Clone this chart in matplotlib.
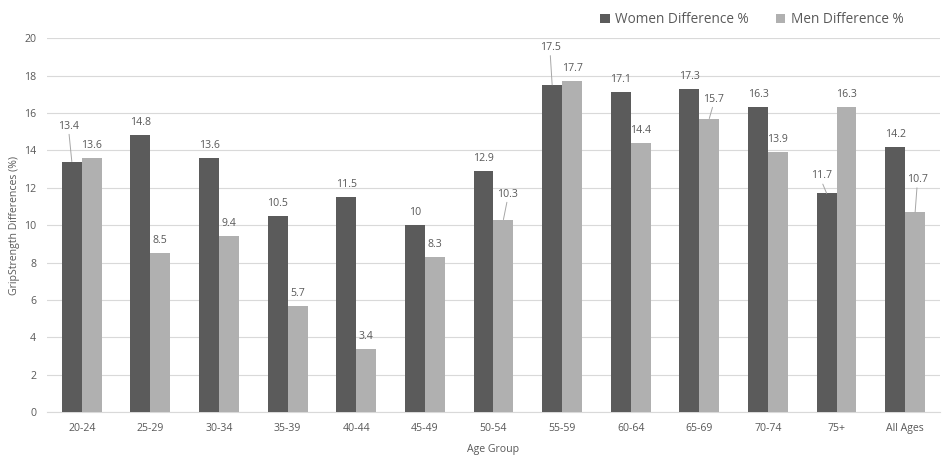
import matplotlib.pyplot as plt
import numpy as np

plt.rcParams['font.family'] = ['Open Sans', 'DejaVu Sans']

groups = ["20-24", "25-29", "30-34", "35-39", "40-44", "45-49", "50-54",
          "55-59", "60-64", "65-69", "70-74", "75+", "All Ages"]
women = [13.4, 14.8, 13.6, 10.5, 11.5, 10, 12.9, 17.5, 17.1, 17.3, 16.3, 11.7, 14.2]
men = [13.6, 8.5, 9.4, 5.7, 3.4, 8.3, 10.3, 17.7, 14.4, 15.7, 13.9, 16.3, 10.7]

# labels pushed away from the bar with a leader line: (series, index) -> offset in px
leaders = {(0, 0): (-3, 30), (0, 7): (-2, 32), (1, 6): (4, 20),
           (1, 9): (4, 14), (0, 11): (-5, 12), (1, 12): (2, 27)}

dark = '#5b5b5b'
light = '#b0b0b0'
txt = '#595959'

fig = plt.figure(figsize=(9.49, 4.59), dpi=100)
ax = fig.add_axes([0.05, 0.102, 0.94, 0.815])

x = np.arange(len(groups))
w = 0.29
b1 = ax.bar(x - w/2, women, w, color=dark, label="Women Difference %", zorder=3)
b2 = ax.bar(x + w/2, men, w, color=light, label="Men Difference %", zorder=3)

for s, (bars, vals) in enumerate([(b1, women), (b2, men)]):
    for i, (r, v) in enumerate(zip(bars, vals)):
        cx = r.get_x() + r.get_width()/2
        lab = ('%g' % v)
        if (s, i) in leaders:
            dx, dy = leaders[(s, i)]
            ax.annotate(lab, xy=(cx, v), xytext=(dx*0.72, dy*0.72),
                        textcoords='offset points', ha='center', va='bottom',
                        fontsize=7.6, color=txt,
                        arrowprops=dict(arrowstyle='-', color='#a6a6a6', lw=0.7,
                                        shrinkA=0, shrinkB=0, relpos=(0.5, 0)))
        else:
            ax.annotate(lab, xy=(cx, v), xytext=(0, 5), textcoords='offset points',
                        ha='center', va='bottom', fontsize=7.6, color=txt)

ax.set_ylim(0, 20)
ax.set_xlim(-0.5, len(groups) - 0.5)
ax.set_yticks(range(0, 21, 2))
ax.set_xticks(x)
ax.set_xticklabels(groups)
ax.tick_params(length=0, labelsize=7.6, colors=txt, pad=8)
ax.yaxis.grid(True, color='#d9d9d9', lw=0.8, zorder=0)
for sp in ['top', 'right', 'left']:
    ax.spines[sp].set_visible(False)
ax.spines['bottom'].set_color('#d9d9d9')
ax.set_xlabel("Age Group", fontsize=7.6, color=txt, labelpad=7)
ax.set_ylabel("GripStrength Differences (%)", fontsize=7.6, color=txt, labelpad=3)

fig.legend(loc='upper right', bbox_to_anchor=(0.965, 1.0), ncol=2, frameon=False,
           fontsize=9.8, labelcolor=txt, handlelength=0.7, handleheight=0.7,
           handletextpad=0.4, columnspacing=2.0)

fig.savefig('out.png', dpi=100)
